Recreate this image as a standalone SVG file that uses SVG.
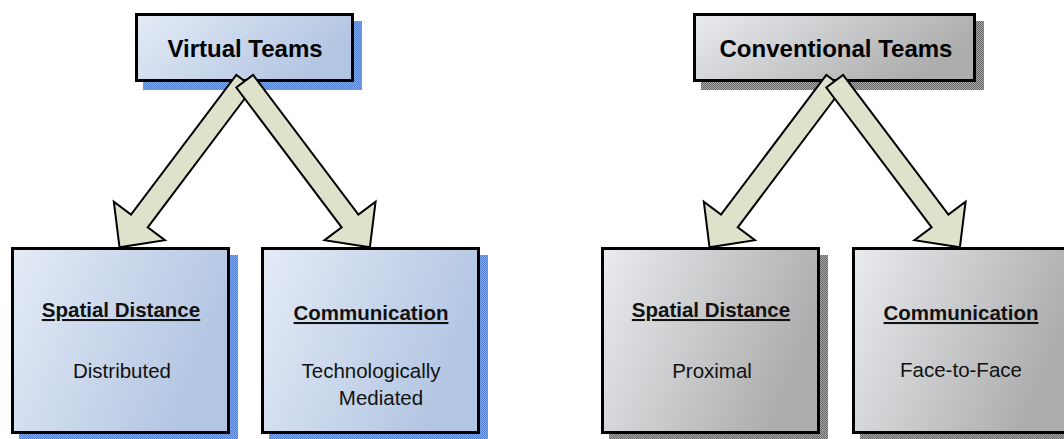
<svg xmlns="http://www.w3.org/2000/svg" width="1064" height="439" viewBox="0 0 1064 439">
  <defs>
    <linearGradient id="gBlue" x1="0" y1="0" x2="1" y2="0.35">
      <stop offset="0" stop-color="#e4ebf6"/>
      <stop offset="1" stop-color="#b2c5e2"/>
    </linearGradient>
    <linearGradient id="gGray" x1="0" y1="0" x2="1" y2="0.35">
      <stop offset="0" stop-color="#e9ebef"/>
      <stop offset="1" stop-color="#adadad"/>
    </linearGradient>
    <pattern id="shBlue" width="2" height="2" patternUnits="userSpaceOnUse">
      <rect width="2" height="2" fill="#8eaee2"/>
      <rect width="1" height="1" fill="#4f7ccb"/>
      <rect x="1" y="1" width="1" height="1" fill="#4f7ccb"/>
    </pattern>
    <pattern id="shGray" width="2" height="2" patternUnits="userSpaceOnUse">
      <rect width="2" height="2" fill="#a8a8a8"/>
      <rect width="1" height="1" fill="#666"/>
      <rect x="1" y="1" width="1" height="1" fill="#666"/>
    </pattern>
    <!-- block arrow pointing along +x, tail at origin -->
    <polygon id="blockArrow" points="0,-10.5 175,-10.5 175,-32 208,0 175,32 175,10.5 0,10.5"/>
  </defs>
  <style>
    .box { stroke: #000; stroke-width: 3; }
    .blue { fill: url(#gBlue); }
    .gray { fill: url(#gGray); }
    .title { font-family: "Liberation Sans", Arial, sans-serif; font-size: 24px; font-weight: bold; fill: #000; text-anchor: middle; }
    .head { font-family: "Liberation Sans", Arial, sans-serif; font-size: 20.5px; font-weight: bold; fill: #111; text-anchor: middle; text-decoration: underline; }
    .body { font-family: "Liberation Sans", Arial, sans-serif; font-size: 20.5px; fill: #111; text-anchor: middle; }
    .arrow { fill: #dee2cb; stroke: #000; stroke-width: 2; stroke-linejoin: miter; }
  </style>
  <rect width="1064" height="439" fill="#fff"/>

  <!-- Virtual Teams side -->
  <g id="virtual-teams">
    <rect x="143" y="21" width="219" height="69" fill="url(#shBlue)"/>
    <rect class="box blue" x="136.5" y="14.5" width="216" height="66"/>
    <text class="title" x="245" y="57">Virtual Teams</text>
  </g>
  <g id="virtual-spatial">
    <rect x="19" y="255" width="219" height="186" fill="url(#shBlue)"/>
    <rect class="box blue" x="12.5" y="248.5" width="216" height="184"/>
    <text class="head" x="121" y="317">Spatial Distance</text>
    <text class="body" x="122" y="378">Distributed</text>
  </g>
  <g id="virtual-communication">
    <rect x="269" y="255" width="219" height="186" fill="url(#shBlue)"/>
    <rect class="box blue" x="262.5" y="248.5" width="216" height="184"/>
    <text class="head" x="371" y="320">Communication</text>
    <text class="body" x="371" y="378">Technologically</text>
    <text class="body" x="381" y="405">Mediated</text>
  </g>

  <!-- Conventional Teams side -->
  <g id="conventional-teams">
    <rect x="701" y="21" width="283" height="69" fill="url(#shGray)"/>
    <rect class="box gray" x="694.5" y="14.5" width="280" height="66"/>
    <text class="title" x="836" y="57">Conventional Teams</text>
  </g>
  <g id="conventional-spatial">
    <rect x="609" y="255" width="219" height="186" fill="url(#shGray)"/>
    <rect class="box gray" x="602.5" y="248.5" width="216" height="184"/>
    <text class="head" x="711" y="317">Spatial Distance</text>
    <text class="body" x="712" y="378">Proximal</text>
  </g>
  <g id="conventional-communication">
    <rect x="860" y="255" width="219" height="186" fill="url(#shGray)"/>
    <rect class="box gray" x="853.5" y="248.5" width="216" height="184"/>
    <text class="head" x="961" y="320">Communication</text>
    <text class="body" x="961" y="377">Face-to-Face</text>
  </g>

  <!-- connectors -->
  <g id="connectors">
    <use href="#blockArrow" class="arrow" transform="translate(244.7,81.2) rotate(127)"/>
    <use href="#blockArrow" class="arrow" transform="translate(244.7,81.2) rotate(53)"/>
    <use href="#blockArrow" class="arrow" transform="translate(834.7,81.2) rotate(127)"/>
    <use href="#blockArrow" class="arrow" transform="translate(834.7,81.2) rotate(53)"/>
  </g>
</svg>
